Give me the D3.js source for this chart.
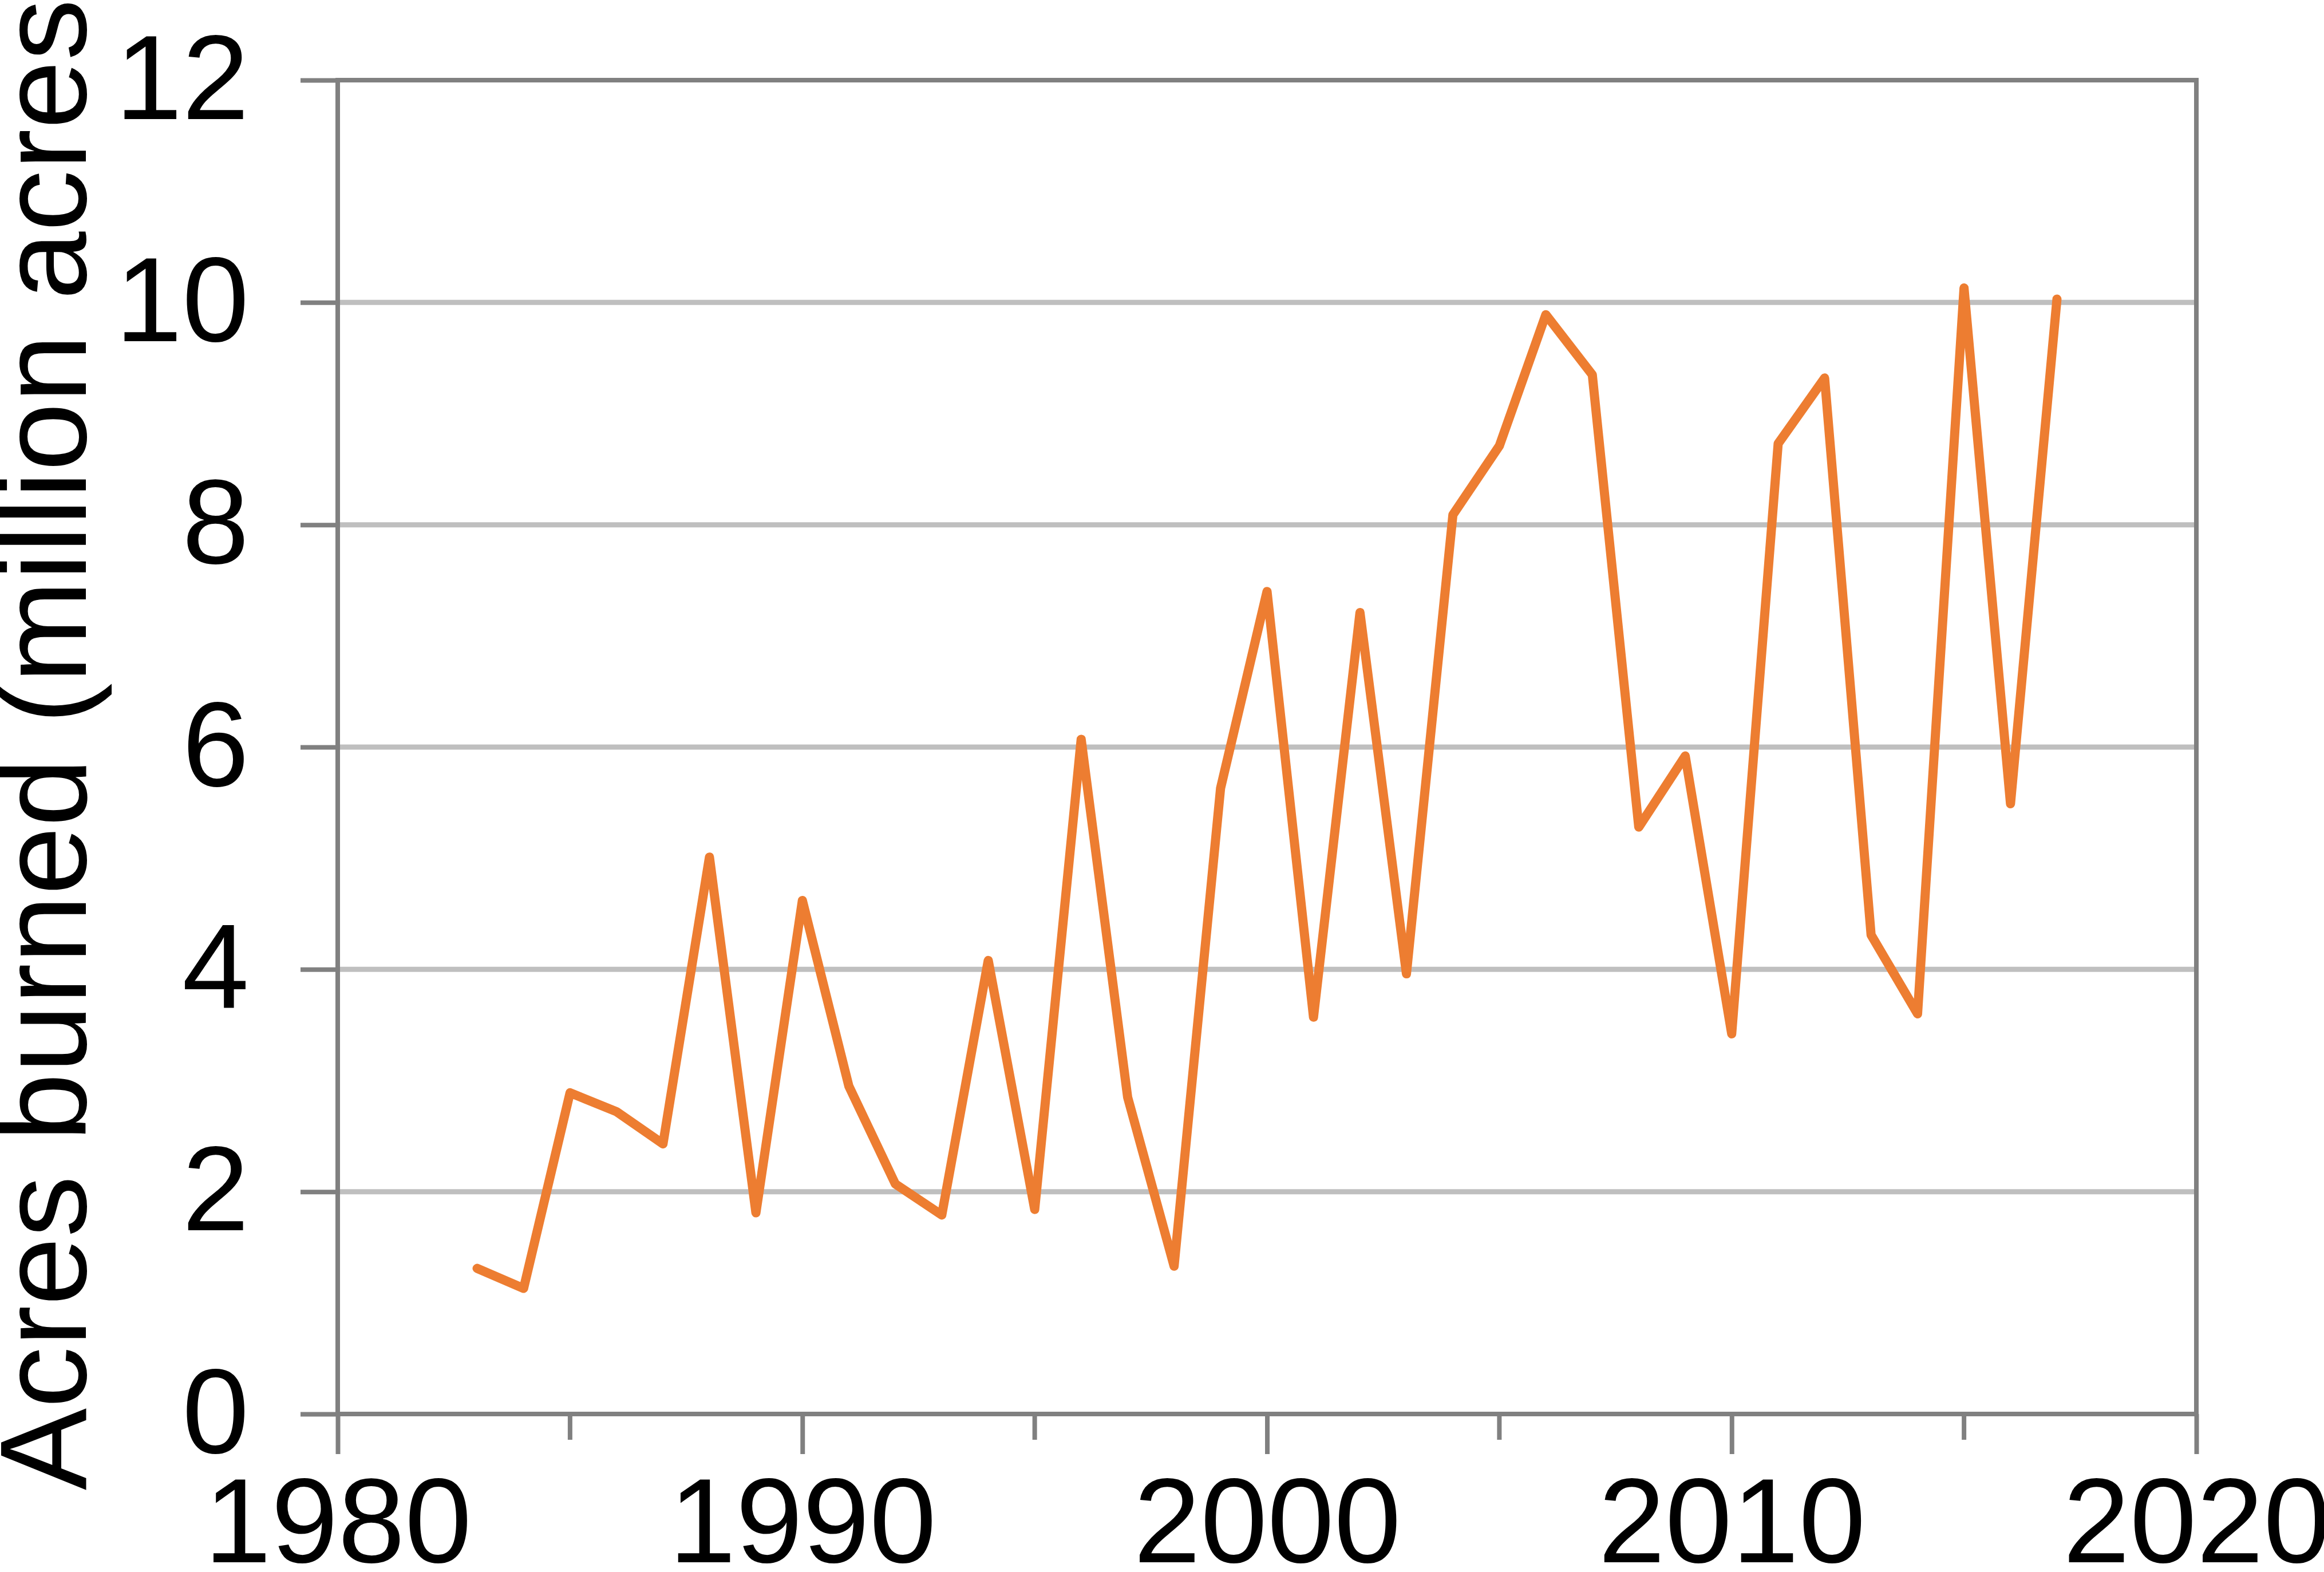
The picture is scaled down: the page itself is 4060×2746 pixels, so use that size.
<!DOCTYPE html><html><head><meta charset="utf-8"><script src="https://cdn.jsdelivr.net/npm/d3@7"></script>
<style>body{margin:0;background:#fff}</style></head><body><script>
const years=[1983,1984,1985,1986,1987,1988,1989,1990,1991,1992,1993,1994,1995,1996,1997,1998,1999,2000,2001,2002,2003,2004,2005,2006,2007,2008,2009,2010,2011,2012,2013,2014,2015,2016,2017];
const acres=[1.31,1.13,2.89,2.72,2.43,5.01,1.81,4.62,2.95,2.07,1.79,4.08,1.84,6.07,2.85,1.33,5.63,7.40,3.57,7.21,3.96,8.09,8.71,9.89,9.35,5.28,5.92,3.42,8.73,9.32,4.31,3.60,10.13,5.49,10.03];
const yTicks=[0,2,4,6,8,10,12];
const xTicks=[1980,1990,2000,2010,2020];
const xMinor=[1985,1995,2005,2015];
const W=4060,H=2746,L=590,R=3837,T=140,B=2470;
const svg=d3.select("body").append("svg").attr("width",W).attr("height",H);
const x=d3.scaleLinear().domain([1980,2020]).range([L,R]);
const y=d3.scaleLinear().domain([0,12]).range([B,T]);
const font="Liberation Sans, Arial, sans-serif";
svg.append("g").selectAll("line").data(yTicks.slice(1,-1)).join("line")
 .attr("x1",L).attr("x2",R).attr("y1",d=>y(d)).attr("y2",d=>y(d)).attr("stroke","#bfbfbf").attr("stroke-width",9);
const gy=svg.append("g").attr("transform",`translate(${L},0)`).call(d3.axisLeft(y).tickValues(yTicks).tickSize(95).tickPadding(60).tickFormat(d3.format("d")));
const gx=svg.append("g").attr("transform",`translate(0,${B})`).call(d3.axisBottom(x).tickValues(xTicks).tickSize(70).tickPadding(40).tickFormat(d3.format("d")));
[gy,gx].forEach(g=>{g.selectAll("path,line").attr("stroke","#808080").attr("stroke-width",8);g.selectAll("text").attr("font-family",font).attr("font-size",210).attr("fill","#000");});
gy.selectAll("line").attr("x2",-65);
gx.select(".domain").remove();gy.select(".domain").remove();
svg.append("g").selectAll("line").data(xMinor).join("line").attr("x1",d=>x(d)).attr("x2",d=>x(d)).attr("y1",B).attr("y2",B+45).attr("stroke","#808080").attr("stroke-width",8);
svg.append("rect").attr("x",L).attr("y",T).attr("width",R-L).attr("height",B-T).attr("fill","none").attr("stroke","#808080").attr("stroke-width",8);
svg.append("path").datum(years.map((d,i)=>[d,acres[i]])).attr("d",d3.line().x(d=>x(d[0])).y(d=>y(d[1])))
 .attr("fill","none").attr("stroke","#ED7D31").attr("stroke-width",16).attr("stroke-linejoin","round").attr("stroke-linecap","round");
svg.append("text").attr("transform",`translate(150,${(T+B)/2-40}) rotate(-90)`).attr("text-anchor","middle")
 .attr("font-family",font).attr("font-size",215).text("Acres burned (million acres)");
</script></body></html>
